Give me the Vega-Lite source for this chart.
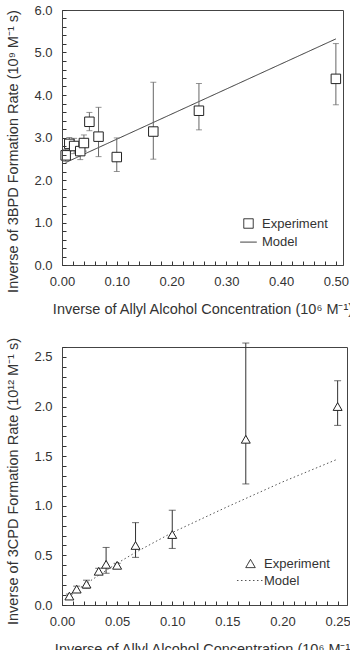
{
  "$schema": "https://vega.github.io/schema/vega-lite/v6.json",
  "padding": {"left": 5, "top": 3, "right": 0, "bottom": 0},
  "config": {
    "font": "Liberation Sans",
    "view": {"stroke": "#444"},
    "axis": {
      "domainColor": "#444",
      "labelColor": "#333",
      "titleColor": "#333",
      "labelFontSize": 13,
      "titleFontSize": 14.5,
      "titleFontWeight": "normal"
    },
    "legend": {
      "title": null,
      "labelFontSize": 13,
      "labelColor": "#333",
      "symbolSize": 90,
      "symbolStrokeWidth": 1,
      "labelOffset": 7
    }
  },
  "datasets": {
    "bpd": [
      {"conc": 0.0067, "rate": 2.58, "lo": 2.44, "hi": 2.72, "series": "Experiment"},
      {"conc": 0.0133, "rate": 2.85, "lo": 2.68, "hi": 3.00, "series": "Experiment"},
      {"conc": 0.0222, "rate": 2.80, "lo": 2.62, "hi": 2.98, "series": "Experiment"},
      {"conc": 0.0333, "rate": 2.68, "lo": 2.48, "hi": 2.86, "series": "Experiment"},
      {"conc": 0.04, "rate": 2.87, "lo": 2.68, "hi": 3.06, "series": "Experiment"},
      {"conc": 0.05, "rate": 3.37, "lo": 3.16, "hi": 3.59, "series": "Experiment"},
      {"conc": 0.0667, "rate": 3.02, "lo": 2.55, "hi": 3.71, "series": "Experiment"},
      {"conc": 0.1, "rate": 2.54, "lo": 2.20, "hi": 2.99, "series": "Experiment"},
      {"conc": 0.1667, "rate": 3.14, "lo": 2.49, "hi": 4.30, "series": "Experiment"},
      {"conc": 0.25, "rate": 3.63, "lo": 3.18, "hi": 4.27, "series": "Experiment"},
      {"conc": 0.5, "rate": 4.38, "lo": 3.77, "hi": 5.21, "series": "Experiment"}
    ],
    "bpdModel": [
      {"conc": 0.0067, "rate": 2.41, "series": "Model"},
      {"conc": 0.5, "rate": 5.32, "series": "Model"}
    ],
    "cpd": [
      {"conc": 0.0067, "rate": 0.09, "lo": 0.07, "hi": 0.11, "series": "Experiment"},
      {"conc": 0.0133, "rate": 0.16, "lo": 0.13, "hi": 0.19, "series": "Experiment"},
      {"conc": 0.0222, "rate": 0.21, "lo": 0.17, "hi": 0.25, "series": "Experiment"},
      {"conc": 0.0333, "rate": 0.34, "lo": 0.31, "hi": 0.37, "series": "Experiment"},
      {"conc": 0.04, "rate": 0.41, "lo": 0.32, "hi": 0.58, "series": "Experiment"},
      {"conc": 0.05, "rate": 0.40, "lo": 0.38, "hi": 0.42, "series": "Experiment"},
      {"conc": 0.0667, "rate": 0.60, "lo": 0.48, "hi": 0.83, "series": "Experiment"},
      {"conc": 0.1, "rate": 0.71, "lo": 0.57, "hi": 0.955, "series": "Experiment"},
      {"conc": 0.1667, "rate": 1.67, "lo": 1.22, "hi": 2.64, "series": "Experiment"},
      {"conc": 0.25, "rate": 2.00, "lo": 1.81, "hi": 2.26, "series": "Experiment"}
    ],
    "cpdModel": [
      {"conc": 0.005, "rate": 0.09, "series": "Model"},
      {"conc": 0.02, "rate": 0.20, "series": "Model"},
      {"conc": 0.0333, "rate": 0.30, "series": "Model"},
      {"conc": 0.05, "rate": 0.42, "series": "Model"},
      {"conc": 0.0667, "rate": 0.53, "series": "Model"},
      {"conc": 0.1, "rate": 0.73, "series": "Model"},
      {"conc": 0.15, "rate": 0.99, "series": "Model"},
      {"conc": 0.2, "rate": 1.24, "series": "Model"},
      {"conc": 0.25, "rate": 1.47, "series": "Model"}
    ]
  },
  "resolve": {
    "scale": {"color": "independent", "shape": "independent", "strokeDash": "independent"},
    "legend": {"color": "independent", "shape": "independent", "strokeDash": "independent"}
  },
  "spacing": 20,
  "vconcat": [
    {
      "width": 281,
      "height": 255,
      "encoding": {
        "x": {
          "field": "conc", "type": "quantitative",
          "scale": {"domain": [0, 0.513], "nice": false, "zero": false},
          "axis": {
            "title": "Inverse of Allyl Alcohol Concentration (10⁶ M⁻¹)",
            "values": [0, 0.02, 0.04, 0.06, 0.08, 0.1, 0.12, 0.14, 0.16, 0.18, 0.2, 0.22, 0.24, 0.26, 0.28, 0.3, 0.32, 0.34, 0.36, 0.38, 0.4, 0.42, 0.44, 0.46, 0.48, 0.5],
            "labelExpr": "abs(datum.value * 10 - round(datum.value * 10)) < 1e-6 ? format(datum.value, '.2f') : ''",
            "labelOverlap": false, "labelFlush": false, "labelBound": false, "grid": false,
            "ticks": true, "tickSize": -4, "tickColor": "#333", "tickWidth": 1, "tickOpacity": 1, "zindex": 1,
            "labelPadding": 14, "titlePadding": 14
          }
        },
        "y": {
          "field": "rate", "type": "quantitative",
          "scale": {"domain": [0, 6], "nice": false},
          "axis": {
            "title": "Inverse of 3BPD Formation Rate (10⁹ M⁻¹ s)",
            "values": [0, 0.2, 0.4, 0.6, 0.8, 1, 1.2, 1.4, 1.6, 1.8, 2, 2.2, 2.4, 2.6, 2.8, 3, 3.2, 3.4, 3.6, 3.8, 4, 4.2, 4.4, 4.6, 4.8, 5, 5.2, 5.4, 5.6, 5.8, 6],
            "labelExpr": "abs(datum.value - round(datum.value)) < 1e-6 ? format(datum.value, '.1f') : ''",
            "labelOverlap": false, "labelFlush": false, "labelBound": false, "grid": false,
            "ticks": true, "tickSize": -4, "tickColor": "#333", "tickWidth": 1, "tickOpacity": 1, "zindex": 1,
            "labelPadding": 14, "titlePadding": 13, "titleY": 141
          }
        }
      },
      "layer": [
        {
          "data": {"name": "bpdModel"},
          "mark": {"type": "line", "strokeWidth": 1},
          "encoding": {
            "color": {
              "field": "series", "type": "nominal",
              "scale": {"domain": ["Experiment", "Model"], "range": ["#222", "#333"]},
              "legend": {"orient": "bottom-right", "offset": 15, "rowPadding": 4.6}
            },
            "strokeDash": {
              "field": "series", "type": "nominal",
              "scale": {"domain": ["Experiment", "Model"], "range": [[1, 0], [1, 0]]},
              "legend": {"orient": "bottom-right", "offset": 15, "rowPadding": 4.6}
            }
          }
        },
        {
          "data": {"name": "bpd"},
          "mark": {"type": "rule", "color": "#666", "strokeWidth": 1},
          "encoding": {
            "y": {"field": "lo", "type": "quantitative", "title": "Inverse of 3BPD Formation Rate (10⁹ M⁻¹ s)"},
            "y2": {"field": "hi"}
          }
        },
        {
          "data": {"name": "bpd"},
          "mark": {"type": "tick", "orient": "horizontal", "size": 6, "thickness": 1, "color": "#666"},
          "encoding": {
            "y": {"field": "lo", "type": "quantitative", "title": "Inverse of 3BPD Formation Rate (10⁹ M⁻¹ s)"}
          }
        },
        {
          "data": {"name": "bpd"},
          "mark": {"type": "tick", "orient": "horizontal", "size": 6, "thickness": 1, "color": "#666"},
          "encoding": {
            "y": {"field": "hi", "type": "quantitative", "title": "Inverse of 3BPD Formation Rate (10⁹ M⁻¹ s)"}
          }
        },
        {
          "data": {"name": "bpd"},
          "mark": {"type": "point", "filled": false, "fill": "white", "fillOpacity": 1, "strokeWidth": 1, "size": 90, "opacity": 1},
          "encoding": {
            "color": {
              "field": "series", "type": "nominal",
              "scale": {"domain": ["Experiment", "Model"], "range": ["#222", "#333"]},
              "legend": {"orient": "bottom-right", "offset": 15, "rowPadding": 4.6}
            },
            "shape": {
              "field": "series", "type": "nominal",
              "scale": {"domain": ["Experiment", "Model"], "range": ["square", "M-1.75,0H1.75"]},
              "legend": {"orient": "bottom-right", "offset": 15, "rowPadding": 4.6}
            }
          }
        },
        {
          "data": {"values": [{"panel": "(a)"}]},
          "mark": {"type": "text", "fontSize": 18, "color": "#222", "align": "left", "baseline": "alphabetic"},
          "encoding": {
            "x": {"datum": 0.024, "type": "quantitative", "title": "Inverse of Allyl Alcohol Concentration (10⁶ M⁻¹)"},
            "y": {"datum": 5.37, "type": "quantitative", "title": "Inverse of 3BPD Formation Rate (10⁹ M⁻¹ s)"},
            "text": {"field": "panel"}
          }
        }
      ]
    },
    {
      "width": 285,
      "height": 258,
      "encoding": {
        "x": {
          "field": "conc", "type": "quantitative",
          "scale": {"domain": [0, 0.2585], "nice": false, "zero": false},
          "axis": {
            "title": "Inverse of Allyl Alcohol Concentration (10⁶ M⁻¹)",
            "values": [0, 0.01, 0.02, 0.03, 0.04, 0.05, 0.06, 0.07, 0.08, 0.09, 0.1, 0.11, 0.12, 0.13, 0.14, 0.15, 0.16, 0.17, 0.18, 0.19, 0.2, 0.21, 0.22, 0.23, 0.24, 0.25],
            "labelExpr": "abs(datum.value * 20 - round(datum.value * 20)) < 1e-6 ? format(datum.value, '.2f') : ''",
            "labelOverlap": false, "labelFlush": false, "labelBound": false, "grid": false,
            "ticks": true, "tickSize": -4, "tickColor": "#333", "tickWidth": 1, "tickOpacity": 1, "zindex": 1,
            "labelPadding": 14, "titlePadding": 14
          }
        },
        "y": {
          "field": "rate", "type": "quantitative",
          "scale": {"domain": [0, 2.6], "nice": false},
          "axis": {
            "title": "Inverse of 3CPD Formation Rate (10¹² M⁻¹ s)",
            "values": [0, 0.1, 0.2, 0.3, 0.4, 0.5, 0.6, 0.7, 0.8, 0.9, 1, 1.1, 1.2, 1.3, 1.4, 1.5, 1.6, 1.7, 1.8, 1.9, 2, 2.1, 2.2, 2.3, 2.4, 2.5, 2.6],
            "labelExpr": "abs(datum.value * 2 - round(datum.value * 2)) < 1e-6 ? format(datum.value, '.1f') : ''",
            "labelOverlap": false, "labelFlush": false, "labelBound": false, "grid": false,
            "ticks": true, "tickSize": -4, "tickColor": "#333", "tickWidth": 1, "tickOpacity": 1, "zindex": 1,
            "labelPadding": 14, "titlePadding": 13, "titleY": 134
          }
        }
      },
      "layer": [
        {
          "data": {"name": "cpdModel"},
          "mark": {"type": "line", "strokeWidth": 1},
          "encoding": {
            "color": {
              "field": "series", "type": "nominal",
              "scale": {"domain": ["Experiment", "Model"], "range": ["#222", "#555"]},
              "legend": {"orient": "bottom-right", "offset": 17, "rowPadding": 3}
            },
            "strokeDash": {
              "field": "series", "type": "nominal",
              "scale": {"domain": ["Experiment", "Model"], "range": [[1, 0], [1.5, 2.5]]},
              "legend": {"orient": "bottom-right", "offset": 17, "rowPadding": 3}
            }
          }
        },
        {
          "data": {"name": "cpd"},
          "mark": {"type": "rule", "color": "#333", "strokeWidth": 1},
          "encoding": {
            "y": {"field": "lo", "type": "quantitative", "title": "Inverse of 3CPD Formation Rate (10¹² M⁻¹ s)"},
            "y2": {"field": "hi"}
          }
        },
        {
          "data": {"name": "cpd"},
          "mark": {"type": "tick", "orient": "horizontal", "size": 7, "thickness": 1, "color": "#333"},
          "encoding": {
            "y": {"field": "lo", "type": "quantitative", "title": "Inverse of 3CPD Formation Rate (10¹² M⁻¹ s)"}
          }
        },
        {
          "data": {"name": "cpd"},
          "mark": {"type": "tick", "orient": "horizontal", "size": 7, "thickness": 1, "color": "#333"},
          "encoding": {
            "y": {"field": "hi", "type": "quantitative", "title": "Inverse of 3CPD Formation Rate (10¹² M⁻¹ s)"}
          }
        },
        {
          "data": {"name": "cpd"},
          "mark": {"type": "point", "filled": false, "fill": "white", "fillOpacity": 1, "strokeWidth": 1, "size": 80, "opacity": 1},
          "encoding": {
            "color": {
              "field": "series", "type": "nominal",
              "scale": {"domain": ["Experiment", "Model"], "range": ["#222", "#555"]},
              "legend": {"orient": "bottom-right", "offset": 17, "rowPadding": 3}
            },
            "shape": {
              "field": "series", "type": "nominal",
              "scale": {"domain": ["Experiment", "Model"], "range": ["triangle-up", "M-2.85,0H2.85"]},
              "legend": {"orient": "bottom-right", "offset": 17, "rowPadding": 3}
            }
          }
        },
        {
          "data": {"values": [{"panel": "(b)"}]},
          "mark": {"type": "text", "fontSize": 18, "color": "#222", "align": "left", "baseline": "alphabetic"},
          "encoding": {
            "x": {"datum": 0.0158, "type": "quantitative", "title": "Inverse of Allyl Alcohol Concentration (10⁶ M⁻¹)"},
            "y": {"datum": 2.40, "type": "quantitative", "title": "Inverse of 3CPD Formation Rate (10¹² M⁻¹ s)"},
            "text": {"field": "panel"}
          }
        }
      ]
    }
  ]
}
